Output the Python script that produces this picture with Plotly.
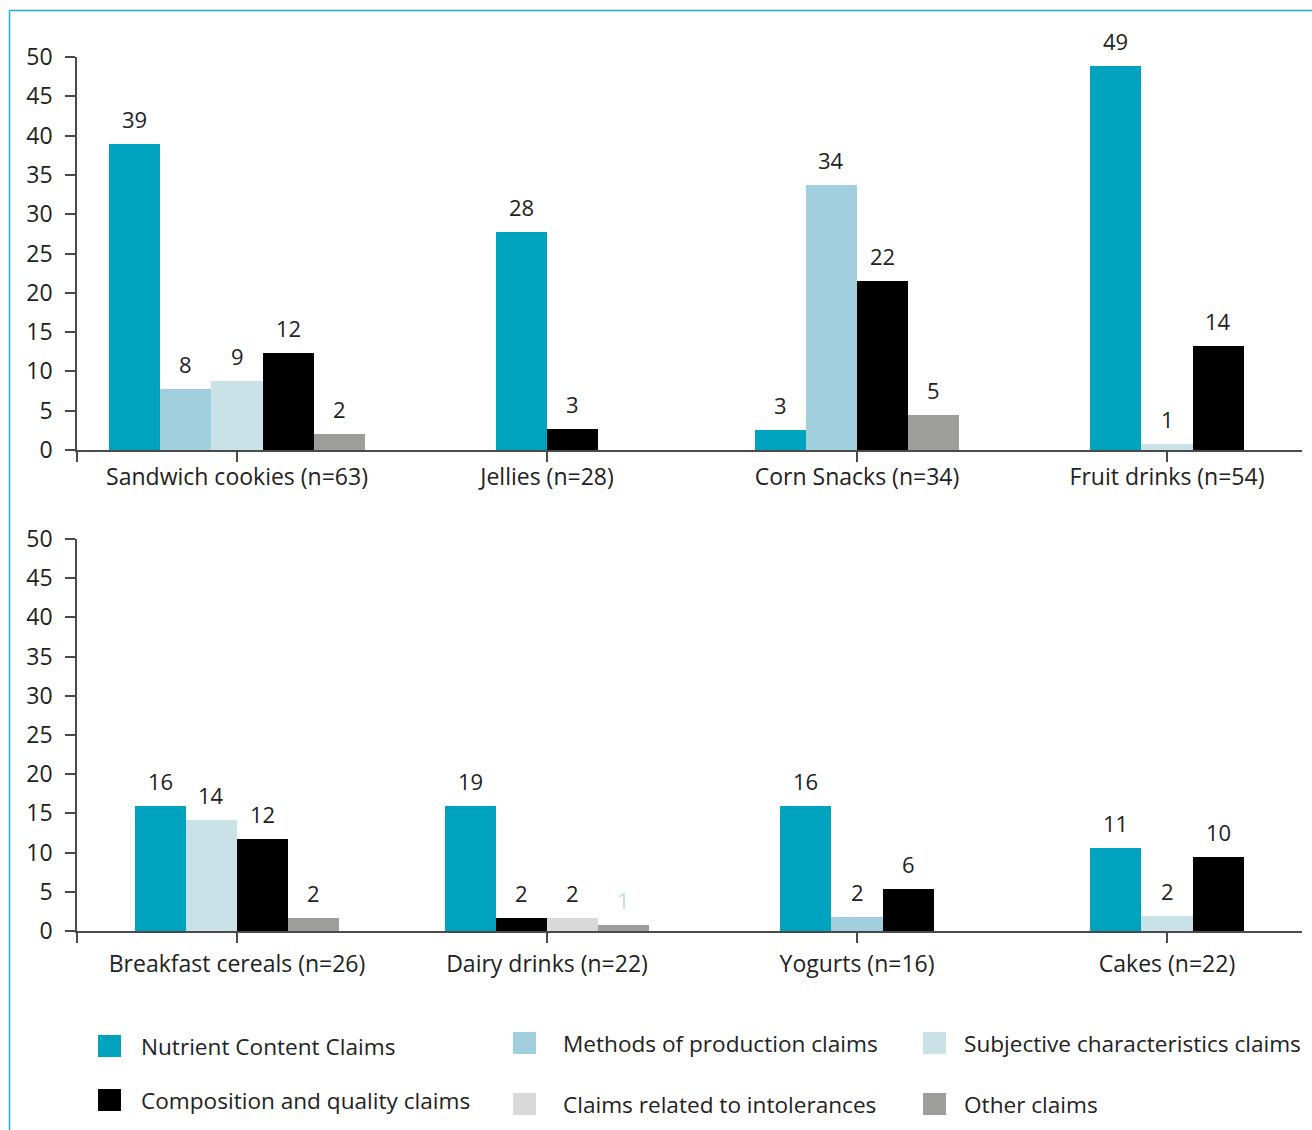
import plotly.graph_objects as go

# ---------------- data ----------------
series_names = [
    "Nutrient Content Claims",
    "Methods of production claims",
    "Subjective characteristics claims",
    "Composition and quality claims",
    "Claims related to intolerances",
    "Other claims",
]
series_colors = ["#00A3BE", "#A1CFDD", "#C9E2E8", "#000000", "#D9D9D9", "#9D9D9C"]

top_categories = ["Sandwich cookies (n=63)", "Jellies (n=28)", "Corn Snacks (n=34)", "Fruit drinks (n=54)"]
bottom_categories = ["Breakfast cereals (n=26)", "Dairy drinks (n=22)", "Yogurts (n=16)", "Cakes (n=22)"]

# bar heights as drawn (None = no bar)
top_nutrient = [38.9, 27.7, 2.5, 48.9]
top_methods = [7.7, None, 33.7, None]
top_subjective = [8.8, None, None, 0.75]
top_composition = [12.3, 2.7, 21.5, 13.2]
top_intolerances = [None, None, None, None]
top_other = [2.0, None, 4.45, None]

# printed labels
top_nutrient_lbl = [39, 28, 3, 49]
top_methods_lbl = [8, None, 34, None]
top_subjective_lbl = [9, None, None, 1]
top_composition_lbl = [12, 3, 22, 14]
top_intolerances_lbl = [None, None, None, None]
top_other_lbl = [2, None, 5, None]

bottom_nutrient = [15.9, 15.9, 15.9, 10.6]
bottom_methods = [None, None, 1.8, None]
bottom_subjective = [14.2, None, None, 1.9]
bottom_composition = [11.7, 1.7, 5.4, 9.4]
bottom_intolerances = [None, 1.7, None, None]
bottom_other = [1.7, 0.8, None, None]

bottom_nutrient_lbl = [16, 19, 16, 11]
bottom_methods_lbl = [None, None, 2, None]
bottom_subjective_lbl = [14, None, None, 2]
bottom_composition_lbl = [12, 2, 6, 10]
bottom_intolerances_lbl = [None, 2, None, None]
bottom_other_lbl = [2, 1, None, None]

y_ticks = [0, 5, 10, 15, 20, 25, 30, 35, 40, 45, 50]

# ---------------- layout helpers ----------------
W, H = 1312, 1130
FONT = "Open Sans"
TXT = "#222222"
AXC = "#4a4a4a"
BAR_W = 0.165
X_RANGE = [(77 - 237) / 310, (1302 - 237) / 310]


def px_x(p):
    return p / W


def px_y(p):
    return 1 - p / H


fig = go.Figure()
annotations = []
shapes = []

panels = [
    ("x", "y", top_categories,
     [top_nutrient, top_methods, top_subjective, top_composition, top_intolerances, top_other],
     [top_nutrient_lbl, top_methods_lbl, top_subjective_lbl, top_composition_lbl, top_intolerances_lbl, top_other_lbl]),
    ("x2", "y2", bottom_categories,
     [bottom_nutrient, bottom_methods, bottom_subjective, bottom_composition, bottom_intolerances, bottom_other],
     [bottom_nutrient_lbl, bottom_methods_lbl, bottom_subjective_lbl, bottom_composition_lbl, bottom_intolerances_lbl, bottom_other_lbl]),
]

for xa, ya, cats, vals, lbls in panels:
    ncat = len(cats)
    present = [[s for s in range(len(vals)) if vals[s][c] is not None] for c in range(ncat)]
    for s, (name, color) in enumerate(zip(series_names, series_colors)):
        xs, ys = [], []
        for c in range(ncat):
            v = vals[s][c]
            if v is None:
                continue
            k = present[c].index(s)
            n = len(present[c])
            xc = c + (k - (n - 1) / 2) * BAR_W
            xs.append(xc)
            ys.append(v)
            lab = lbls[s][c]
            lab_color = TXT
            if xa == "x2" and s == 5 and c == 1:
                lab_color = "#BFDDE6"
            annotations.append(dict(
                x=xc, y=v, xref=xa, yref=ya, text=str(lab), showarrow=False,
                yshift=25, yanchor="middle", font=dict(family=FONT, size=22, color=lab_color)))
        if xs:
            fig.add_trace(go.Bar(
                x=xs, y=ys, width=[BAR_W] * len(xs), name=name,
                marker=dict(color=color, line=dict(width=0)),
                xaxis=xa, yaxis=ya, showlegend=False, hoverinfo="y+name"))

axis_font = dict(family=FONT, size=23, color=TXT)

common_x = dict(
    range=X_RANGE, showline=True, linecolor=AXC, linewidth=1.5,
    ticks="outside", ticklen=10, tickcolor=AXC, tickwidth=1.5,
    showgrid=False, zeroline=False, tickfont=axis_font, fixedrange=True,
    domain=[px_x(77), px_x(1302)], automargin=False,
)
common_y = dict(
    range=[0, 50], tickvals=y_ticks, showline=True, linecolor=AXC, linewidth=1.5,
    ticks="outside", ticklen=10, tickcolor=AXC, tickwidth=1.5,
    showgrid=False, zeroline=False, tickfont=axis_font, ticklabelstandoff=8,
    automargin=False,
)

fig.update_layout(
    template="none",
    xaxis=dict(common_x, tickvals=[X_RANGE[0], 0, 1, 2, 3], ticktext=[""] + top_categories,
               anchor="y", ticklabelstandoff=-4),
    yaxis=dict(common_y, domain=[px_y(450), px_y(57)], anchor="x"),
    xaxis2=dict(common_x, tickvals=[X_RANGE[0], 0, 1, 2, 3], ticktext=[""] + bottom_categories,
                anchor="y2", ticklabelstandoff=2),
    yaxis2=dict(common_y, domain=[px_y(931), px_y(539)], anchor="x2"),
)

# legend drawn manually (3 columns x 2 rows): square x, text x, row y
legend_pos = [
    (98, 139, 1046), (513, 561, 1043), (923, 962, 1043),
    (98, 139, 1100), (513, 561, 1104), (923, 962, 1104),
]
for (lx, tx, ly), name, color in zip(legend_pos, series_names, series_colors):
    shapes.append(dict(type="rect", xref="paper", yref="paper",
                       x0=px_x(lx), x1=px_x(lx + 23), y0=px_y(ly + 11), y1=px_y(ly - 11),
                       fillcolor=color, line=dict(width=0)))
    annotations.append(dict(x=px_x(tx), y=px_y(ly), xref="paper", yref="paper",
                            text=name, showarrow=False, xanchor="left", yanchor="middle",
                            font=dict(family=FONT, size=22.6, color=TXT)))

# frame lines (top and left)
frame_c = "#1EAFC8"
shapes.append(dict(type="line", xref="paper", yref="paper", x0=px_x(9.5), x1=1, y0=px_y(10.5), y1=px_y(10.5),
                   line=dict(color=frame_c, width=1.5)))
shapes.append(dict(type="line", xref="paper", yref="paper", x0=px_x(9.5), x1=px_x(9.5), y0=0, y1=px_y(10.5),
                   line=dict(color=frame_c, width=1.5)))

fig.update_layout(
    width=W, height=H, margin=dict(l=0, r=0, t=0, b=0, pad=0),
    paper_bgcolor="white", plot_bgcolor="white",
    barmode="overlay", bargap=0, showlegend=False,
    annotations=annotations, shapes=shapes,
    font=dict(family=FONT, color=TXT),
)

fig.write_html("out.html")
